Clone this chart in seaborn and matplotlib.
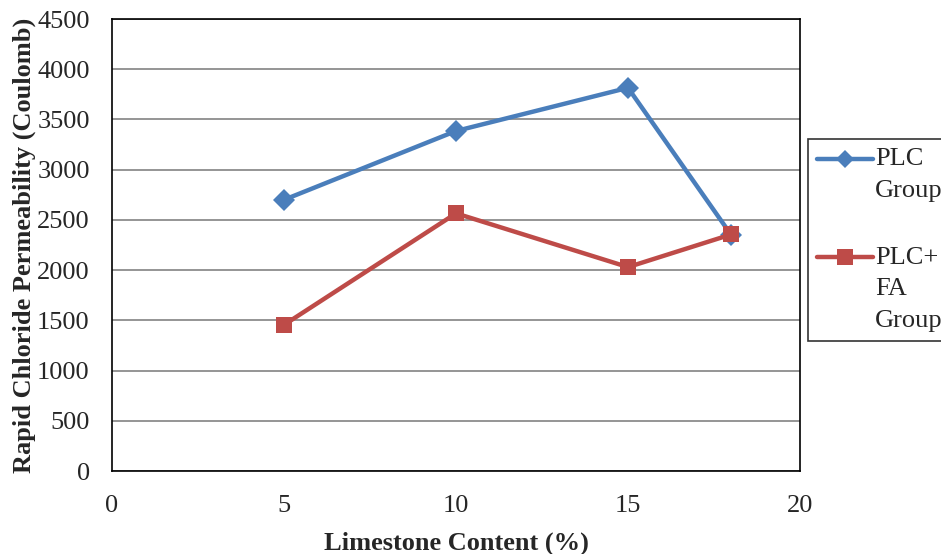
import matplotlib
matplotlib.use("Agg")
import matplotlib.pyplot as plt
import seaborn as sns
import pandas as pd
from matplotlib.lines import Line2D
from matplotlib.legend_handler import HandlerLine2D

limestone = [5, 10, 15, 18]
plc_group = [2700, 3385, 3815, 2350]
plc_fa_group = [1455, 2565, 2030, 2355]
series_names = ["PLC\nGroup", "PLC+\nFA\nGroup"]
colors = ["#4A7EBB", "#BE4B48"]

df = pd.DataFrame({
    "x": limestone * 2,
    "y": plc_group + plc_fa_group,
    "series": [series_names[0]] * 4 + [series_names[1]] * 4,
})

sns.set_style("white")
plt.rcParams["font.family"] = ["Liberation Serif", "DejaVu Serif"]

fig = plt.figure(figsize=(9.41, 5.54), dpi=100)
ax = fig.add_axes([112 / 941, 83 / 554, 688 / 941, 452 / 554])

sns.lineplot(data=df, x="x", y="y", hue="series", style="series",
             palette=colors, markers=["D", "s"], dashes=False,
             linewidth=3.2, markersize=11, markeredgewidth=0,
             ax=ax, legend=False)

ax.set_xlim(0, 20)
ax.set_ylim(0, 4500)
ax.set_xticks(range(0, 21, 5))
ax.set_yticks(range(0, 4501, 500))
ax.yaxis.grid(True, color="#8C8C8C", linewidth=1.3)
ax.xaxis.grid(False)
ax.set_axisbelow(True)
for s in ax.spines.values():
    s.set_color("black")
    s.set_linewidth(1.2)
ax.tick_params(axis="x", labelsize=19, length=0, pad=17)
ax.tick_params(axis="y", labelsize=19, length=0, pad=16)
ax.set_xlabel("Limestone Content (%)", fontsize=19, fontweight="bold", labelpad=11)
ax.set_ylabel("Rapid Chloride Permeability (Coulomb)", fontsize=19,
              fontweight="bold", labelpad=1)


class FirstLineHandler(HandlerLine2D):
    """Line handler that sits level with the first line of a multi-line label."""

    def __init__(self, shift, **kw):
        super().__init__(**kw)
        self.shift = shift

    def create_artists(self, legend, orig_handle, xdescent, ydescent,
                       width, height, fontsize, trans):
        return super().create_artists(legend, orig_handle, xdescent,
                                      ydescent - 2 * self.shift, width,
                                      height, fontsize, trans)


handles = [
    Line2D([], [], color=colors[0], marker="D", markersize=9, linewidth=3.2, markeredgewidth=0),
    Line2D([], [], color=colors[1], marker="s", markersize=11, linewidth=3.2, markeredgewidth=0),
]
leg = fig.legend(handles, series_names, loc="upper left",
                 bbox_to_anchor=(808 / 941, 1 - 139 / 554),
                 frameon=True, fancybox=False,
                 handlelength=2.1, handletextpad=0.1, labelspacing=1.72,
                 borderpad=0.35, borderaxespad=0,
                 handler_map={handles[0]: FirstLineHandler(11.2),
                              handles[1]: FirstLineHandler(22.4)},
                 prop={"size": 19})
for t in leg.get_texts():
    t.set_linespacing(1.55)
leg.get_frame().set_edgecolor("black")
leg.get_frame().set_linewidth(1.2)

fig.savefig("out.png", dpi=100)
